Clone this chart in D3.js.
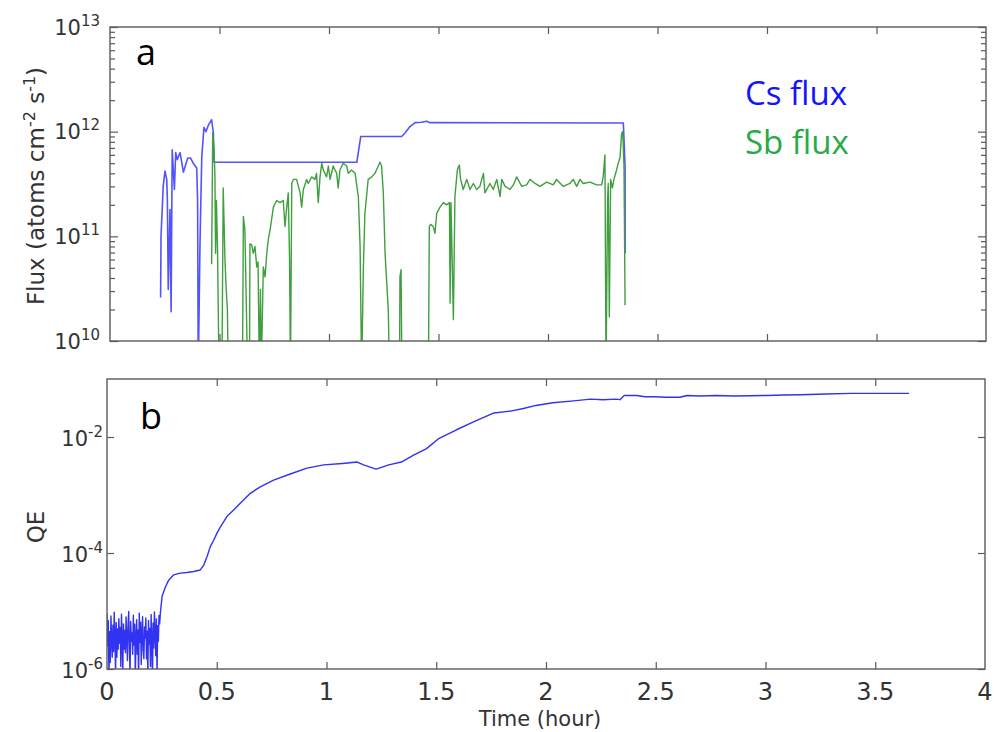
<!DOCTYPE html>
<html>
<head>
<meta charset="utf-8">
<script src="https://cdn.jsdelivr.net/npm/d3@7"></script>
<style>
  body { margin: 0; background: #fff; }
  svg { display: block; }
  .frame { fill: none; stroke: #5a5a5a; stroke-width: 1.4; }
  .tick line { stroke: #5a5a5a; stroke-width: 1.2; }
  .ticklabel, .axistitle { font-family: 'DejaVu Sans', sans-serif; fill: #333; }
  .tag { font-family: 'Open Sans', sans-serif; }
</style>
</head>
<body>
<div id="chart"></div>
<script>
(() => {
'use strict';

// ---- data: [time (hour), value] ----
const csFlux = [
  [0.231, 2.6e10], [0.233, 1.0e11], [0.243, 3.0e11], [0.251, 4.2e11], [0.259, 3.5e11], [0.262, 2.2e11],
  [0.266, 3.1e10], [0.274, 1.8e11], [0.279, 1.9e10], [0.284, 6.7e11], [0.294, 2.8e11], [0.300, 6.3e11],
  [0.307, 5.4e11], [0.320, 6.3e11], [0.335, 4.1e11], [0.355, 5.6e11], [0.368, 5.6e11], [0.380, 5.0e11],
  [0.396, 4.5e11], [0.400, 2.2e11], [0.403, 5e9], [0.411, 8.7e10], [0.419, 5.7e11], [0.429, 1.1e12],
  [0.438, 1.0e12], [0.449, 1.15e12], [0.464, 1.3e12], [0.472, 9.8e11], [0.475, 5.1e11], [1.127, 5.1e11],
  [1.145, 9.0e11], [1.332, 9.0e11], [1.347, 9.7e11], [1.370, 1.12e12], [1.393, 1.22e12], [1.423, 1.23e12],
  [1.446, 1.26e12], [1.458, 1.22e12], [2.344, 1.21e12], [2.352, 4.6e11], [2.352, 6.9e10]
];

const sbFlux = [
  [0.464, 5.4e10], [0.469, 9.8e11], [0.475, 6.7e11], [0.479, 3.9e11], [0.482, 6.9e10], [0.486, 2.2e11],
  [0.491, 7.4e10], [0.498, 5e9], [0.511, 5e9], [0.517, 2.9e11], [0.525, 5.9e10], [0.530, 3.3e10],
  [0.536, 2.0e10], [0.540, 5e9], [0.605, 5e9], [0.609, 1.55e11], [0.616, 1.15e11], [0.624, 1.5e10],
  [0.628, 5e9], [0.637, 5e9], [0.639, 8.5e10], [0.647, 8.3e10], [0.654, 6.9e10], [0.662, 8.0e10],
  [0.670, 5.1e10], [0.676, 5.7e10], [0.682, 5e9], [0.687, 3.1e10], [0.691, 5e9], [0.700, 5.1e10],
  [0.708, 4.1e10], [0.716, 6.9e10], [0.723, 9.4e10], [0.731, 1.15e11], [0.746, 1.9e11], [0.761, 2.2e11],
  [0.776, 2.1e11], [0.791, 2.2e11], [0.799, 1.24e11], [0.807, 1.9e11], [0.814, 2.6e11], [0.820, 5.9e10],
  [0.824, 5e9], [0.830, 3.2e11], [0.837, 3.5e11], [0.852, 3.5e11], [0.868, 2.6e11], [0.875, 1.9e11],
  [0.883, 2.8e11], [0.898, 3.5e11], [0.905, 3.2e11], [0.921, 3.7e11], [0.936, 3.5e11], [0.943, 4.0e11],
  [0.951, 2.1e11], [0.959, 3.7e11], [0.967, 5.0e11], [0.974, 4.3e11], [0.989, 3.7e11], [0.997, 4.7e11],
  [1.005, 3.5e11], [1.019, 4.7e11], [1.035, 4.0e11], [1.042, 2.9e11], [1.050, 4.3e11], [1.065, 5.0e11],
  [1.081, 4.7e11], [1.088, 4.0e11], [1.103, 4.3e11], [1.119, 4.0e11], [1.134, 2.4e11], [1.142, 8.0e10],
  [1.149, 5e9], [1.157, 5.1e10], [1.164, 1.66e11], [1.179, 3.5e11], [1.195, 3.7e11], [1.210, 4.0e11],
  [1.225, 4.7e11], [1.233, 5.1e11], [1.240, 4.7e11], [1.248, 2.6e11], [1.256, 6.9e10], [1.263, 3.8e10],
  [1.271, 1.9e10], [1.276, 5e9], [1.322, 5e9], [1.324, 4.1e10], [1.329, 4.8e10], [1.333, 5e9],
  [1.454, 5e9], [1.458, 1.24e11], [1.464, 1.3e11], [1.476, 1.24e11], [1.484, 1.07e11], [1.492, 1.66e11],
  [1.507, 1.9e11], [1.522, 2.1e11], [1.537, 2.0e11], [1.550, 2.1e11], [1.553, 2.3e10], [1.557, 2.1e11],
  [1.568, 1.6e10], [1.575, 2.4e11], [1.586, 4.3e11], [1.595, 4.8e11], [1.601, 3.5e11], [1.613, 2.8e11],
  [1.629, 3.5e11], [1.644, 2.8e11], [1.659, 3.2e11], [1.674, 2.8e11], [1.689, 3.0e11], [1.705, 4.0e11],
  [1.712, 2.6e11], [1.735, 3.2e11], [1.750, 2.8e11], [1.766, 3.5e11], [1.781, 2.4e11], [1.789, 3.5e11],
  [1.804, 3.0e11], [1.826, 2.8e11], [1.842, 3.1e11], [1.857, 3.7e11], [1.880, 3.0e11], [1.902, 3.1e11],
  [1.918, 3.5e11], [1.941, 3.2e11], [1.963, 3.0e11], [1.994, 3.3e11], [2.024, 3.1e11], [2.039, 3.5e11],
  [2.070, 3.0e11], [2.100, 3.2e11], [2.115, 3.5e11], [2.131, 3.0e11], [2.146, 3.5e11], [2.161, 3.2e11],
  [2.192, 3.3e11], [2.222, 3.1e11], [2.245, 3.1e11], [2.252, 3.7e11], [2.260, 6.0e11], [2.265, 5e9],
  [2.272, 2.2e11], [2.275, 3.2e11], [2.280, 1.7e10], [2.286, 3.5e11], [2.294, 2.9e11], [2.301, 3.5e11],
  [2.313, 4.3e11], [2.321, 5.0e11], [2.329, 5.7e11], [2.336, 9.6e11], [2.341, 1.0e12], [2.347, 4.7e11],
  [2.352, 2.2e10]
];

// noisy start of the QE trace, sampled every 0.003 h from t = 0
const QE_NOISE_STEP = 0.003;
const qeNoise = [
  9.0e-6, 2.5e-6, 6.8e-6, 0.7e-6, 4.4e-6, 1.3e-6, 8.2e-6, 3.1e-6, 1.6e-6, 5.7e-6,
  2.0e-6, 9.5e-6, 3.6e-6, 0.8e-6, 6.3e-6, 1.6e-6, 4.9e-6, 2.2e-6, 7.4e-6, 2.8e-6,
  5.2e-6, 1.1e-6, 8.8e-6, 3.3e-6, 0.9e-6, 6.0e-6, 2.2e-6, 4.6e-6, 1.9e-6, 7.9e-6,
  3.8e-6, 1.4e-6, 5.5e-6, 9.8e-6, 2.4e-6, 0.8e-6, 6.6e-6, 3.0e-6, 4.2e-6, 1.8e-6,
  8.5e-6, 2.6e-6, 5.9e-6, 0.7e-6, 3.5e-6, 7.1e-6, 1.8e-6, 4.7e-6, 0.6e-6, 9.2e-6,
  2.9e-6, 6.4e-6, 1.2e-6, 4.0e-6, 8.0e-6, 2.1e-6, 1.5e-6, 5.3e-6, 3.4e-6, 7.6e-6,
  1.5e-6, 4.5e-6, 0.7e-6, 6.9e-6, 2.7e-6, 5.0e-6, 1.1e-6, 8.7e-6, 3.2e-6, 0.6e-6,
  6.2e-6, 2.3e-6, 9.6e-6, 4.1e-6, 1.7e-6, 7.3e-6, 0.8e-6, 5.6e-6, 3.0e-6, 8.4e-6
];

const qeTrace = [
  [0.240, 6.0e-6], [0.243, 9.1e-6], [0.251, 1.8e-5], [0.266, 2.6e-5], [0.281, 3.4e-5], [0.304, 4.2e-5],
  [0.334, 4.5e-5], [0.364, 4.6e-5], [0.395, 4.8e-5], [0.425, 5.1e-5], [0.441, 6.2e-5], [0.456, 8.7e-5],
  [0.471, 1.3e-4], [0.486, 1.66e-4], [0.501, 2.2e-4], [0.516, 2.8e-4], [0.547, 4.3e-4], [0.577, 5.5e-4],
  [0.607, 7.2e-4], [0.653, 1.07e-3], [0.698, 1.38e-3], [0.759, 1.8e-3], [0.835, 2.3e-3], [0.911, 2.9e-3],
  [0.987, 3.3e-3], [1.073, 3.5e-3], [1.140, 3.7e-3], [1.169, 3.3e-3], [1.226, 2.8e-3], [1.284, 3.3e-3],
  [1.341, 3.7e-3], [1.399, 4.9e-3], [1.456, 6.3e-3], [1.513, 9.5e-3], [1.590, 1.32e-2], [1.667, 1.8e-2],
  [1.763, 2.6e-2], [1.839, 2.8e-2], [1.897, 3.1e-2], [1.954, 3.5e-2], [2.031, 3.9e-2], [2.126, 4.2e-2],
  [2.203, 4.5e-2], [2.260, 4.4e-2], [2.318, 4.5e-2], [2.337, 4.4e-2], [2.356, 5.2e-2], [2.413, 5.2e-2],
  [2.451, 4.95e-2], [2.490, 4.95e-2], [2.547, 4.85e-2], [2.610, 4.85e-2], [2.643, 5.2e-2], [2.700, 5.1e-2],
  [2.777, 5.2e-2], [2.854, 5.1e-2], [2.930, 5.15e-2], [3.007, 5.2e-2], [3.083, 5.3e-2], [3.160, 5.35e-2],
  [3.275, 5.5e-2], [3.390, 5.65e-2], [3.504, 5.65e-2], [3.654, 5.65e-2]
];

const timeTicks = [0, 0.5, 1, 1.5, 2, 2.5, 3, 3.5, 4];
const fluxMajor = [10, 11, 12, 13];       // exponents
const qeMajor = [-6, -4, -2];             // exponents

// ---- layout ----
const WIDTH = 994;
const HEIGHT = 732;
const TOP = { left: 110, right: 986, top: 27, bottom: 341 };
const BOT = { left: 107, right: 985, top: 379, bottom: 669 };
const CS_COLOR = '#5252ff';
const SB_COLOR = '#3f9f3f';
const QE_COLOR = '#3232f2';

const svg = d3.select('#chart')
  .append('svg')
  .attr('width', WIDTH)
  .attr('height', HEIGHT);

const xTop = d3.scaleLinear().domain([0, 4]).range([TOP.left, TOP.right]);
const yTop = d3.scaleLog().domain([1e10, 1e13]).range([TOP.bottom, TOP.top]);
const xBot = d3.scaleLinear().domain([0, 4]).range([BOT.left, BOT.right]);
const yBot = d3.scaleLog().domain([1e-6, 1e-1]).range([BOT.bottom, BOT.top]);

const addClip = (id, box) => {
  svg.append('clipPath').attr('id', id)
    .append('rect')
      .attr('x', box.left).attr('y', box.top)
      .attr('width', box.right - box.left).attr('height', box.bottom - box.top);
};
addClip('clip-top', TOP);
addClip('clip-bot', BOT);

const ticks = (axis, transform) => {
  svg.append('g')
    .attr('transform', transform)
    .call(axis.tickFormat('').tickSizeOuter(0))
    .call(g => g.select('.domain').remove());
};

const frame = (box) => {
  svg.append('rect')
    .attr('class', 'frame')
    .attr('x', box.left).attr('y', box.top)
    .attr('width', box.right - box.left).attr('height', box.bottom - box.top);
};

// 10^n style label
const powLabel = (x, y, exp) => {
  const t = svg.append('text')
    .attr('class', 'ticklabel')
    .attr('x', x).attr('y', y)
    .attr('text-anchor', 'end')
    .style('font-size', '21px');
  t.append('tspan').text('10');
  t.append('tspan').attr('dy', -9).style('font-size', '15px').text(exp);
};

const isPow10 = (v) => Math.abs(Math.log10(v) - Math.round(Math.log10(v))) < 1e-9;

// ---- panel a ----
const innerTimes = timeTicks.slice(1, -1);
ticks(d3.axisBottom(xTop).tickValues(innerTimes).tickSize(-7), `translate(0,${TOP.bottom})`);
ticks(d3.axisTop(xTop).tickValues(innerTimes).tickSize(-7), `translate(0,${TOP.top})`);

const fluxMinor = yTop.ticks().filter(v => !isPow10(v));
const fluxMajorVals = fluxMajor.map(e => Math.pow(10, e));
ticks(d3.axisLeft(yTop).tickValues(fluxMajorVals).tickSize(-8), `translate(${TOP.left},0)`);
ticks(d3.axisLeft(yTop).tickValues(fluxMinor).tickSize(-5), `translate(${TOP.left},0)`);
ticks(d3.axisRight(yTop).tickValues(fluxMajorVals).tickSize(-8), `translate(${TOP.right},0)`);
ticks(d3.axisRight(yTop).tickValues(fluxMinor).tickSize(-5), `translate(${TOP.right},0)`);

const line = (x, y) => d3.line().x(d => x(d[0])).y(d => y(d[1]));

svg.append('path')
  .datum(csFlux)
  .attr('clip-path', 'url(#clip-top)')
  .attr('d', line(xTop, yTop))
  .attr('fill', 'none')
  .attr('stroke', CS_COLOR)
  .attr('stroke-width', 1.6)
  .attr('stroke-linejoin', 'round');

svg.append('path')
  .datum(sbFlux)
  .attr('clip-path', 'url(#clip-top)')
  .attr('d', line(xTop, yTop))
  .attr('fill', 'none')
  .attr('stroke', SB_COLOR)
  .attr('stroke-width', 1.4)
  .attr('stroke-linejoin', 'round');

frame(TOP);

fluxMajor.forEach(e => powLabel(100, yTop(Math.pow(10, e)) + 7.5, String(e)));

const fluxTitle = svg.append('text')
  .attr('class', 'axistitle')
  .attr('transform', `translate(44,${(TOP.top + TOP.bottom) / 2 + 2}) rotate(-90)`)
  .attr('text-anchor', 'middle')
  .style('font-size', '23px');
fluxTitle.append('tspan').text('Flux (atoms cm');
fluxTitle.append('tspan').attr('dy', -9).style('font-size', '16px').text('-2');
fluxTitle.append('tspan').attr('dy', 9).text(' s');
fluxTitle.append('tspan').attr('dy', -9).style('font-size', '16px').text('-1');
fluxTitle.append('tspan').attr('dy', 9).text(')');

svg.append('text').attr('class', 'tag')
  .attr('x', 136).attr('y', 65)
  .style('font-size', '36px').attr('fill', '#000')
  .text('a');

svg.append('text').attr('class', 'tag')
  .attr('x', 745).attr('y', 105)
  .style('font-size', '33px').attr('fill', '#1414ff')
  .text('Cs flux');

svg.append('text').attr('class', 'tag')
  .attr('x', 745).attr('y', 154)
  .style('font-size', '33px').attr('fill', '#28aa46')
  .text('Sb flux');

// ---- panel b ----
ticks(d3.axisBottom(xBot).tickValues(innerTimes).tickSize(-7), `translate(0,${BOT.bottom})`);
ticks(d3.axisTop(xBot).tickValues(innerTimes).tickSize(-7), `translate(0,${BOT.top})`);
const qeMajorVals = qeMajor.map(e => Math.pow(10, e));
ticks(d3.axisLeft(yBot).tickValues(qeMajorVals).tickSize(-7), `translate(${BOT.left},0)`);
ticks(d3.axisRight(yBot).tickValues(qeMajorVals).tickSize(-7), `translate(${BOT.right},0)`);

const qeAll = qeNoise.map((v, i) => [i * QE_NOISE_STEP, v]).concat(qeTrace);

svg.append('path')
  .datum(qeAll)
  .attr('clip-path', 'url(#clip-bot)')
  .attr('d', line(xBot, yBot))
  .attr('fill', 'none')
  .attr('stroke', QE_COLOR)
  .attr('stroke-width', 1.4)
  .attr('stroke-linejoin', 'round');

frame(BOT);

qeMajor.forEach(e => powLabel(103, yBot(Math.pow(10, e)) + 9, String(e)));

svg.selectAll('.xlabel')
  .data(timeTicks)
  .enter()
  .append('text')
    .attr('class', 'ticklabel xlabel')
    .attr('x', d => xBot(d))
    .attr('y', 700)
    .attr('text-anchor', 'middle')
    .style('font-size', '24px')
    .text(d => String(d));

svg.append('text')
  .attr('class', 'axistitle')
  .attr('x', 540)
  .attr('y', 726)
  .attr('text-anchor', 'middle')
  .style('font-size', '21px')
  .text('Time (hour)');

svg.append('text')
  .attr('class', 'axistitle')
  .attr('transform', `translate(44,527) rotate(-90)`)
  .attr('text-anchor', 'middle')
  .style('font-size', '23px')
  .text('QE');

svg.append('text').attr('class', 'tag')
  .attr('x', 140).attr('y', 429)
  .style('font-size', '36px').attr('fill', '#000')
  .text('b');

})();
</script>
</body>
</html>
